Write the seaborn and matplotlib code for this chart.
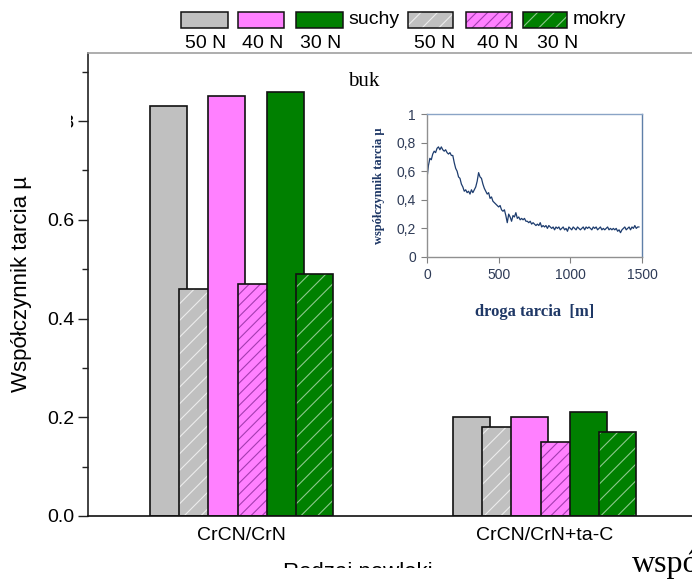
import numpy as np
import matplotlib
matplotlib.use("Agg")
import matplotlib.pyplot as plt
from matplotlib.patches import Rectangle
from matplotlib.transforms import Bbox, TransformedBbox
import seaborn as sns

# ---- data: friction coefficient per coating, load and condition ----
categories = ["CrCN/CrN", "CrCN/CrN+ta-C"]
loads = ["50 N", "40 N", "30 N"]
dry_50 = [0.83, 0.20]
wet_50 = [0.46, 0.18]
dry_40 = [0.85, 0.20]
wet_40 = [0.47, 0.15]
dry_30 = [0.86, 0.21]
wet_30 = [0.49, 0.17]
y_ticks = [0.0, 0.2, 0.4, 0.6, 0.8]

# ---- friction trace (beech counterpart), sliding distance in m ----
trace_dist = list(range(0, 1490, 10))
trace_mu = [
    0.55, 0.64, 0.69, 0.68, 0.72, 0.74, 0.73, 0.76, 0.77, 0.75,
    0.77, 0.75, 0.74, 0.75, 0.73, 0.72, 0.73, 0.71, 0.71, 0.66,
    0.62, 0.60, 0.56, 0.55, 0.51, 0.49, 0.46, 0.47, 0.45, 0.46,
    0.44, 0.47, 0.45, 0.47, 0.49, 0.53, 0.59, 0.56, 0.55, 0.51,
    0.48, 0.46, 0.44, 0.45, 0.41, 0.42, 0.39, 0.38, 0.37, 0.36,
    0.35, 0.36, 0.33, 0.32, 0.33, 0.29, 0.24, 0.30, 0.28, 0.25,
    0.29, 0.28, 0.31, 0.27, 0.28, 0.26, 0.27, 0.26, 0.27, 0.25,
    0.25, 0.24, 0.25, 0.23, 0.24, 0.23, 0.22, 0.23, 0.22, 0.24,
    0.21, 0.22, 0.21, 0.22, 0.20, 0.22, 0.21, 0.20, 0.21, 0.19,
    0.21, 0.20, 0.21, 0.19, 0.20, 0.21, 0.19, 0.20, 0.18, 0.21,
    0.20, 0.19, 0.21, 0.20, 0.19, 0.21, 0.20, 0.19, 0.20, 0.21,
    0.19, 0.21, 0.20, 0.21, 0.20, 0.19, 0.21, 0.20, 0.21, 0.19,
    0.20, 0.21, 0.19, 0.20, 0.19, 0.20, 0.21, 0.19, 0.20, 0.19,
    0.20, 0.19, 0.20, 0.18, 0.19, 0.17, 0.19, 0.20, 0.21, 0.19,
    0.20, 0.21, 0.19, 0.21, 0.20, 0.22, 0.20, 0.21, 0.21,
]
inset_yticks = [0, 0.2, 0.4, 0.6, 0.8, 1.0]
inset_ylabels = ["0", "0,2", "0,4", "0,6", "0,8", "1"]
inset_xticks = [0, 500, 1000, 1500]

sns.set_style("ticks")
plt.rcParams["font.family"] = ["Liberation Sans", "DejaVu Sans"]
plt.rcParams["text.color"] = "black"
plt.rcParams["axes.labelcolor"] = "black"
plt.rcParams["xtick.color"] = "black"
plt.rcParams["ytick.color"] = "black"
plt.rcParams["hatch.linewidth"] = 0.8

W, H = 692, 579
fig = plt.figure(figsize=(W / 100, H / 100), dpi=100)


def fx(px):
    return px / W


def fy(py):
    return (H - py) / H


# main axes (right edge runs slightly past the canvas)
ax = fig.add_axes([fx(88), fy(516), fx(698) - fx(88), fy(53) - fy(516)])

GRAY, PINK, GREEN = "#c0c0c0", "#ff80ff", "#008000"
series = [
    (dry_50, GRAY, None, None),
    (wet_50, GRAY, "//", "#ececec"),
    (dry_40, PINK, None, None),
    (wet_40, PINK, "///", "#a43cb0"),
    (dry_30, GREEN, None, None),
    (wet_30, GREEN, "//", "#8cc88c"),
]
bar_w = 0.122
step = 0.0964
x_base = np.arange(len(categories), dtype=float)
for i, (vals, col, hatch, hcol) in enumerate(series):
    xs = x_base - 2.5 * step + i * step
    if hatch is None:
        sns.barplot(x=xs, y=vals, native_scale=True, width=bar_w, color=col,
                    saturation=1, edgecolor="#111111", linewidth=1.2, ax=ax,
                    errorbar=None)
    else:
        sns.barplot(x=xs, y=vals, native_scale=True, width=bar_w, color=col,
                    saturation=1, edgecolor=hcol, linewidth=0, hatch=hatch,
                    ax=ax, errorbar=None)
        sns.barplot(x=xs, y=vals, native_scale=True, width=bar_w,
                    facecolor="none", edgecolor="#111111", linewidth=1.2,
                    ax=ax, errorbar=None)

ax.set_xlim(-0.507, 1.507)
ax.set_ylim(0, 0.938)
ax.set_xticks(x_base)
ax.set_xticklabels(categories, fontsize=14)
ax.tick_params(axis="x", length=0, pad=8)
ax.set_yticks(y_ticks)
ax.set_yticklabels([f"{v:.1f}" for v in y_ticks], fontsize=14)
ax.set_yticks([0.1, 0.3, 0.5, 0.7, 0.9], minor=True)
ax.tick_params(axis="y", which="major", length=7, width=1, pad=3, color="#222222")
ax.tick_params(axis="y", which="minor", length=4, width=1, color="#222222")
ax.set_xlabel("")
ax.set_ylabel("Współczynnik tarcia µ", fontsize=16)
ax.yaxis.set_label_coords(-0.092, 0.5)
ax.spines["right"].set_visible(False)
ax.spines["top"].set_color("#a0a0a0")
ax.spines["left"].set_color("#222222")
ax.spines["bottom"].set_color("#111111")
for s in ax.spines.values():
    s.set_linewidth(1.2)

# white area hiding part of the 0.8 label
fig.add_artist(Rectangle((fx(30), fy(136)), fx(71) - fx(30), fy(106) - fy(136),
                         transform=fig.transFigure, facecolor="white",
                         edgecolor="none", zorder=10))

# legend keys drawn along the top
key_x = [181, 238, 296, 408, 466, 523]
key_w = [47, 46, 47, 45, 46, 44]
for (vals, col, hatch, hcol), kx, kw in zip(series[0::2] + series[1::2], key_x, key_w):
    if hatch is not None:
        fig.add_artist(Rectangle((fx(kx), fy(28)), fx(kw), 16 / H,
                                 transform=fig.transFigure, facecolor=col,
                                 edgecolor=hcol, linewidth=0, hatch=hatch))
    else:
        fig.add_artist(Rectangle((fx(kx), fy(28)), fx(kw), 16 / H,
                                 transform=fig.transFigure, facecolor=col,
                                 edgecolor="none"))
    fig.add_artist(Rectangle((fx(kx), fy(28)), fx(kw), 16 / H,
                             transform=fig.transFigure, facecolor="none",
                             edgecolor="#111111", linewidth=1.1))
fig.text(fx(348), fy(20), "suchy", fontsize=14, va="center", ha="left")
fig.text(fx(573), fy(20), "mokry", fontsize=14, va="center", ha="left")
for lx, lab in zip([206, 263, 321, 435, 498, 558], loads + loads):
    fig.text(fx(lx), fy(44), lab, fontsize=14, va="center", ha="center")

# annotation and cut-off captions
fig.text(fx(348), fy(86), "buk", fontsize=15, family="Liberation Serif",
         va="baseline", ha="left")
xl = fig.text(fx(358), fy(578), "Rodzaj powłoki", fontsize=16,
              va="baseline", ha="center")
xl.set_clip_box(TransformedBbox(Bbox([[0, fy(568)], [1, 1]]), fig.transFigure))
xl.set_clip_on(True)
fig.text(fx(632), fy(572), "współczynnik", fontsize=23,
         family="Liberation Serif", va="baseline", ha="left")

# inset: friction coefficient vs sliding distance
NAVY = "#1f3866"
axi = fig.add_axes([fx(427), fy(257), fx(642) - fx(427), fy(114) - fy(257)])
sns.lineplot(x=trace_dist, y=trace_mu, ax=axi, color="#1d3c6e", linewidth=0.9)
axi.set_xlim(0, 1500)
axi.set_ylim(0, 1)
axi.set_xticks(inset_xticks)
axi.set_xticklabels([str(v) for v in inset_xticks], fontsize=10, color="#2e3b57")
axi.set_yticks(inset_yticks)
axi.set_yticklabels(inset_ylabels, fontsize=10, color="#2e3b57")
axi.tick_params(length=4, width=0.8, color="#808080", pad=4)
axi.set_xlabel("droga tarcia  [m]", fontsize=12, fontweight="bold",
               family="Liberation Serif", color=NAVY, labelpad=16)
axi.set_ylabel("współczynnik tarcia µ", fontsize=9, fontweight="bold",
               family="Liberation Serif", color=NAVY, labelpad=8)
axi.spines["left"].set_color("#909090")
axi.spines["bottom"].set_color("#909090")
axi.spines["top"].set_color("#8aa4c6")
axi.spines["right"].set_color("#5f7fa8")
for s in axi.spines.values():
    s.set_linewidth(1.0)
    s.set_visible(True)
axi.set_facecolor("white")

fig.savefig("out.png", dpi=100)
